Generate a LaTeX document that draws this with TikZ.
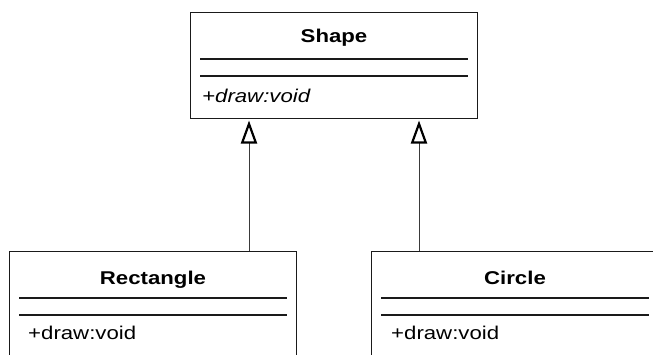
\documentclass[tikz,border=0pt]{standalone}
\usepackage{fontspec}
\setmainfont{Liberation Sans}[FakeStretch=1.2]
\usetikzlibrary{arrows.meta, positioning, calc}
\definecolor{inkline}{HTML}{1A1A1A}
\definecolor{inkgrey}{HTML}{3A3A3A}
\newcommand{\classrules}[1]{%
  \draw[sepline] ($(#1.north west)+(10,47)$) -- ($(#1.north east)+(-10,47)$);
  \draw[sepline] ($(#1.north west)+(10,64)$) -- ($(#1.north east)+(-10,64)$);}

\begin{document}
\begin{tikzpicture}[x=1pt, y=-1pt, font=\fontsize{18.5}{22}\selectfont,
    classbox/.style={draw=inkline, line width=1pt, minimum width=287pt,
                     minimum height=106pt, inner sep=0pt, anchor=north west},
    classname/.style={font=\fontsize{18.5}{22}\selectfont\bfseries,
                      inner sep=0pt, anchor=base},
    classop/.style={inner sep=0pt, anchor=base west},
    sepline/.style={inkline, line width=1.2pt},
    inherit/.style={inkgrey, line width=1pt, shorten >=1.5pt,
                    -{Triangle[open, length=23pt, width=16pt, line width=2.2pt, color=black]}}]
  \useasboundingbox (0,0) rectangle (653,354);
  \clip (0,0) rectangle (653,354);
  % base class
  \node[classbox] (shape) at (190,12) {};
  \node[classname] (shapename) at ($(shape.north)+(0,30)$) {Shape};
  \node[classop] (shapeop) at ($(shape.north west)+(12,90)$) {\itshape +draw:void};
  \classrules{shape}
  % subclasses
  \node[classbox] (rect) at (9,251) {};
  \node[classname] (rectname) at ($(rect.north)+(0,33)$) {Rectangle};
  \node[classop] (rectop) at ($(rect.north west)+(19,88)$) {+draw:void};
  \classrules{rect}
  \node[classbox] (circ) at (371,251) {};
  \node[classname] (circname) at ($(circ.north)+(0,33)$) {Circle};
  \node[classop] (circop) at ($(circ.north west)+(20,88)$) {+draw:void};
  \classrules{circ}
  % generalisation arrows
  \coordinate (hook1) at ($(shape.south west)+(59,0)$);
  \coordinate (hook2) at ($(shape.south west)+(229,0)$);
  \draw[inherit] (rect.north -| hook1) -- (hook1);
  \draw[inherit] (circ.north -| hook2) -- (hook2);
\end{tikzpicture}
\end{document}
